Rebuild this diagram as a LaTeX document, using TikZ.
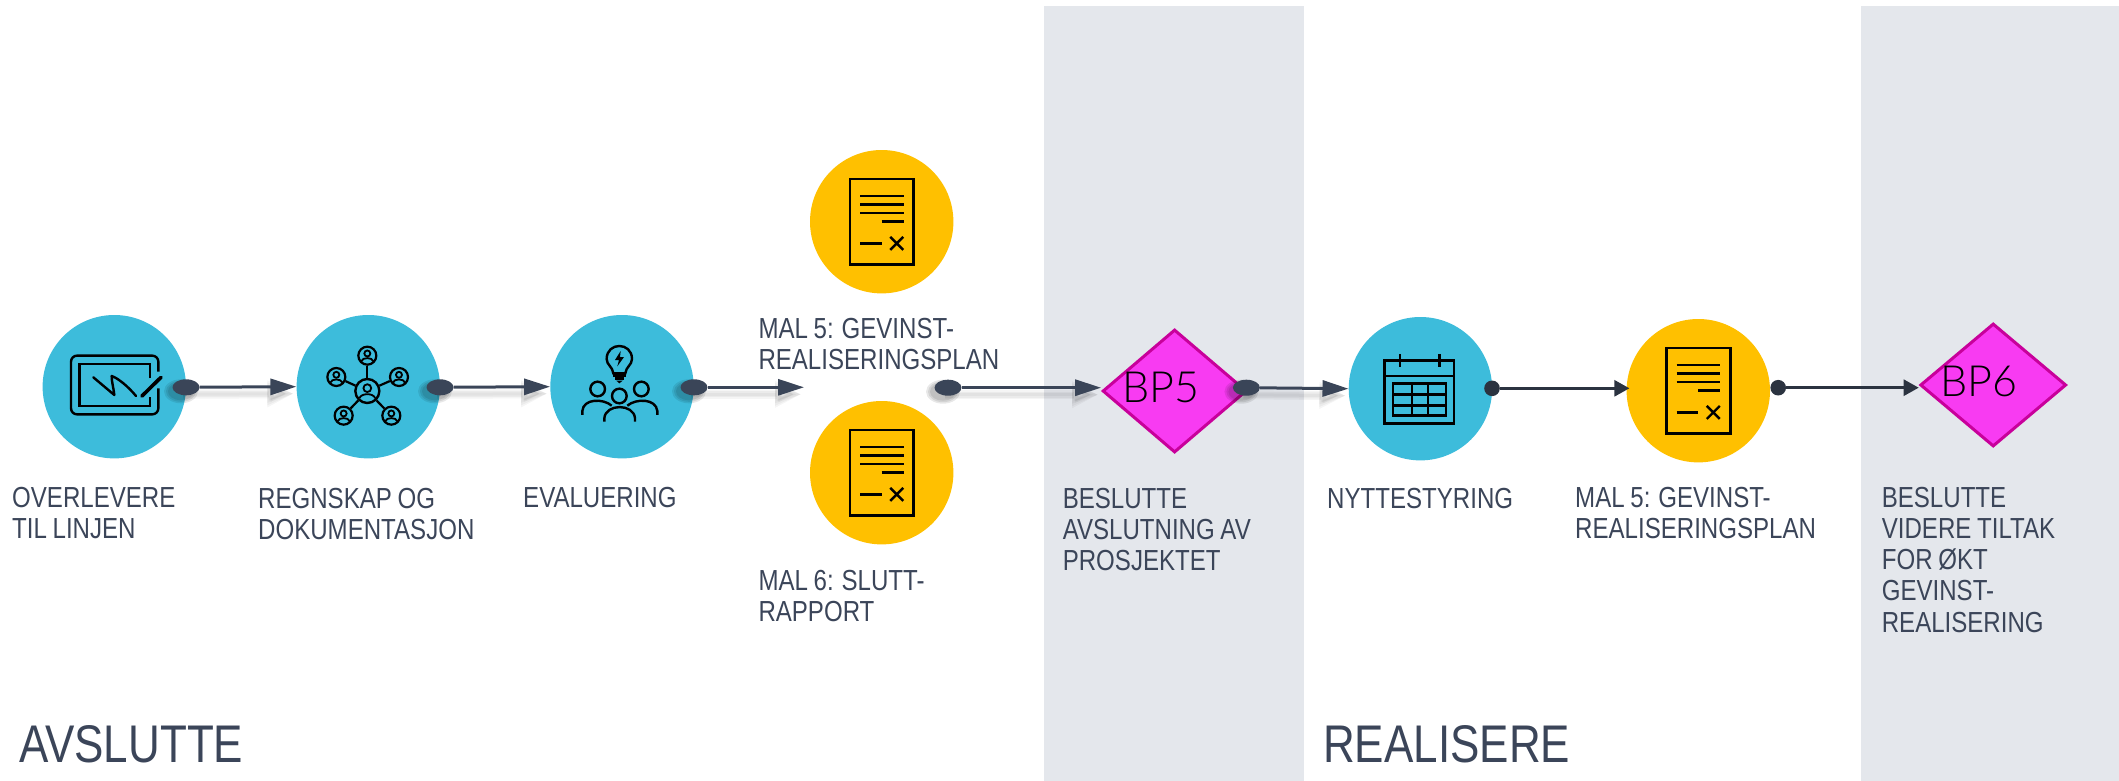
\documentclass[tikz,border=0pt]{standalone}
\usepackage{fontspec}
\setmainfont[FakeStretch=0.83,WordSpace=0.85]{Liberation Sans}
\newfontfamily\bpfont{Lato Light}
\usetikzlibrary{arrows.meta,shapes.geometric,calc}
\definecolor{txt}{HTML}{3B4559}
\definecolor{conn}{HTML}{3A4558}
\definecolor{connd}{HTML}{2B3340}
\definecolor{band}{HTML}{E4E7EC}
\definecolor{blu}{HTML}{3DBCDB}
\definecolor{yel}{HTML}{FFC000}
\definecolor{mag}{HTML}{F83BF2}
\definecolor{magd}{HTML}{C8009B}
\newcommand\labfont{\fontsize{29}{31.2}\selectfont}
\newcommand\softline[2]{%
  \foreach \w/\h in {9/25,6/21,3/17}{%
    \draw[black,opacity=.04,line width=\w pt,-{Triangle[length=26pt,width=\h pt]},
      transform canvas={shift={(-3pt,-7pt)}}] (#1) -- (#2);}}
\newcommand\softdot[1]{%
  \foreach \a/\b in {17/12,15/10.5,13/9}{%
    \fill[black,opacity=.09] ($(#1)+(-5,4)$) ellipse [x radius=\a,y radius=\b];}}
\tikzset{
  x=1pt,y=-1pt,
  circ/.style={circle,inner sep=0pt,draw=none,minimum size=143.4pt},
  blucirc/.style={circ,fill=blu},
  yelcirc/.style={circ,fill=yel},
  dec/.style={diamond,inner sep=0pt,fill=mag,draw=magd,line width=3pt,minimum width=144pt,minimum height=123pt},
  lab/.style={anchor=north west,inner sep=0pt,align=left,text=txt,font=\labfont},
  head/.style={anchor=base west,inner sep=0pt,text=txt,font=\fontsize{53}{60}\selectfont},
  bp/.style={anchor=base west,inner sep=0pt,text=black,font=\bpfont\fontsize{43}{46}\selectfont},
  dotn/.style={ellipse,inner sep=0pt,fill=conn,minimum width=27pt,minimum height=16pt},
  dotr/.style={circle,inner sep=0pt,fill=connd,minimum size=15.6pt},
  arr/.style={draw=conn,line width=3pt,-{Triangle[length=26pt,width=16pt]}},
  arrd/.style={draw=connd,line width=2.6pt,-{Triangle[length=15pt,width=16pt]}},
  ico/.style={draw=black,line width=2.4pt},
  icol/.style={draw=black,line width=3pt},
  sat/.style={circle,draw=black,line width=2.2pt,inner sep=0pt,minimum size=18pt},
  satc/.style={circle,draw=black,line width=2.4pt,inner sep=0pt,minimum size=24pt},
  docicon/.pic={
    \draw[ico,line width=2.6pt] (-31.7,-42.7) rectangle (32,42.6);
    \draw[icol,line width=2.4pt] (-21.7,-26) -- (22,-26);
    \draw[icol] (-21.7,-17.4) -- (22,-17.4);
    \draw[icol,line width=2.4pt] (-21.7,-8.7) -- (22,-8.7);
    \draw[icol] (0,-0.4) -- (22,-0.4);
    \draw[icol] (-21.7,21.7) -- (0,21.7);
    \draw[ico] (8.5,15.2) -- (21.5,28.2) (8.5,28.2) -- (21.5,15.2);
  },
  person/.pic={
    \draw[ico,line width=1.8pt] (0,-2.2) circle (3);
    \draw[ico,line width=1.8pt] (-6,5.6) .. controls (-5,1.4) and (5,1.4) .. (6,5.6);
  }
}
\begin{document}
\begin{tikzpicture}
\useasboundingbox (0,0) rectangle (2119,781);
% bands
\fill[band] (1044,6) rectangle (1304,781);
\fill[band] (1861,6) rectangle (2119,781);
% process nodes
\node[blucirc] (c1) at (114.3,386.7) {};
\node[blucirc] (c2) at (368.3,386.7) {};
\node[blucirc] (c3) at (622,386.7) {};
\node[yelcirc] (m5) at (881.7,221.7) {};
\node[yelcirc] (m6) at (881.7,472.7) {};
\node[dec] (bp5) at (1174.6,391) {};
\node[blucirc] (c5) at (1420.4,388.7) {};
\node[yelcirc] (c6) at (1698.3,390.7) {};
\node[dec,minimum width=146pt] (bp6) at (1993.2,385) {};
% icon 1: tablet
\begin{scope}[shift={(60,340)},x=.3333pt,y=-.3333pt]
  \draw[ico,rounded corners=6pt] (295,95) -- (295,47) -- (33,47) -- (33,223) -- (295,223) -- (295,145);
  \draw[ico] (270,115) -- (270,72) -- (58,72) -- (58,198) -- (270,198) -- (270,170);
  \draw[ico,line cap=round,line join=round] (100,112) -- (163,165) .. controls (160,140) and (155,125) .. (155,108) .. controls (175,115) and (205,140) .. (228,168);
  \draw[ico,line width=3.6pt,line cap=round] (246,168) -- (303,112);
\end{scope}
% icon 2: network
\begin{scope}[shift={(315,335)},x=.3333pt,y=-.3333pt]
  \node[satc] (nc) at (157,168) {};
  \node[sat] (n1) at (157,62) {};
  \node[sat] (n2) at (64,126) {};
  \node[sat] (n3) at (252,126) {};
  \node[sat] (n4) at (86,242) {};
  \node[sat] (n5) at (229,242) {};
  \foreach \n in {n1,n2,n3,n4,n5}{\draw[ico,line width=2.2pt] (nc) -- (\n);}
\end{scope}
\foreach \p in {n1,n2,n3,n4,n5}{\pic at (\p) {person};}
\pic[scale=1.3] at (nc) {person};
% icon 3: people and bulb
\begin{scope}[shift={(570,335)},x=.3333pt,y=-.3333pt]
  \draw[ico] (130,115) .. controls (128,95) and (110,90) .. (110,72) .. controls (110,20) and (186,20) .. (186,72) .. controls (186,90) and (168,95) .. (166,115) -- cycle;
  \fill[black] (152,48) -- (135,75) -- (147,75) -- (142,94) -- (162,66) -- (150,66) -- cycle;
  \draw[ico] (130,122) -- (167,122) (135,130) -- (162,130);
  \fill[black] (139,137) -- (158,137) -- (148,145) -- cycle;
  \draw[ico] (83,162) circle (22);
  \draw[ico] (214,162) circle (22);
  \draw[ico] (148,183) circle (22);
  \draw[ico] (37,240) -- (37,228) .. controls (40,190) and (100,190) .. (125,212);
  \draw[ico] (262,240) -- (262,228) .. controls (258,190) and (198,190) .. (172,212);
  \draw[ico] (103,260) -- (103,250) .. controls (106,205) and (192,205) .. (195,250) -- (195,260);
\end{scope}
% document icons
\pic at (m5) {docicon};
\pic at (m6) {docicon};
\pic at (c6) {docicon};
% icon 5: calendar
\begin{scope}[shift={(1000,300)},x=.35714pt,y=-.3333pt]
  \draw[ico] (1077,182) rectangle (1271,371);
  \draw[ico] (1077,228) -- (1271,228);
  \draw[ico] (1120,162) -- (1120,200) (1230,162) -- (1230,200);
  \draw[ico] (1101,250) rectangle (1249,346);
  \draw[ico] (1101,283) -- (1249,283) (1101,316) -- (1249,316);
  \draw[ico] (1153,250) -- (1153,346) (1199,250) -- (1199,346);
\end{scope}
% decision texts
\node[bp] (t5) at (1122,402.3) {BP5};
\node[bp] (t6) at (1940,396.7) {BP6};
% connector anchors
\coordinate (p1) at (186,387.3);
\coordinate (p2) at (440,387.3);
\coordinate (p3) at (694,387.3);
\coordinate (p4) at (948,387.7);
\coordinate (p5) at (1246.4,387.7);
\coordinate (free3) at (804,387.3);
% shadows
\softline{p1}{c2.west}
\softline{p2}{c3.west}
\softline{p3}{free3}
\softline{p4}{bp5.west |- p4}
\softline{p5}{c5.west}
\softdot{p1}\softdot{p2}\softdot{p3}\softdot{p4}\softdot{p5}
% dots
\node[dotn] (d1) at (p1) {};
\node[dotn] (d2) at (p2) {};
\node[dotn] (d3) at (p3) {};
\node[dotn] (d4) at (p4) {};
\node[dotn] (d5) at (p5) {};
\node[dotr] (d6) at (1492,388.3) {};
\node[dotr] (d7) at (1778.2,387.7) {};
% connectors
\draw[arr] (d1) -- (c2.west);
\draw[arr] (d2) -- (c3.west);
\draw[arr] (d3) -- (free3);
\draw[arr] (d4) -- (bp5.west |- d4);
\draw[arr] (d5) -- (c5.west);
\draw[arrd] (d6) -- ([xshift=3pt]c6.west |- d6);
\draw[arrd] (d7) -- (bp6.west |- d7);
% labels
\node[lab] (l1) at (12,485.3) {\strut OVERLEVERE\\TIL LINJEN};
\node[lab] (l2) at (258,486.3) {\strut REGNSKAP OG\\DOKUMENTASJON};
\node[lab] (l3) at (523,485.3) {\strut EVALUERING};
\node[lab] (l4) at (758.3,316.7) {\strut MAL 5: GEVINST-\\REALISERINGSPLAN};
\node[lab] (l5) at (758.3,568) {\strut MAL 6: SLUTT-\\RAPPORT};
\node[lab] (l6) at (1062.6,486.3) {\strut BESLUTTE\\AVSLUTNING AV\\PROSJEKTET};
\node[lab] (l7) at (1327,486) {\strut NYTTESTYRING};
\node[lab] (l8) at (1575,485.3) {\strut MAL 5: GEVINST-\\REALISERINGSPLAN};
\node[lab] (l9) at (1881.6,485.3) {\strut BESLUTTE\\VIDERE TILTAK\\FOR ØKT\\GEVINST-\\REALISERING};
\node[head] (h1) at (19,762.3) {AVSLUTTE};
\node[head] (h2) at (1323,762.3) {REALISERE};
\end{tikzpicture}
\end{document}
